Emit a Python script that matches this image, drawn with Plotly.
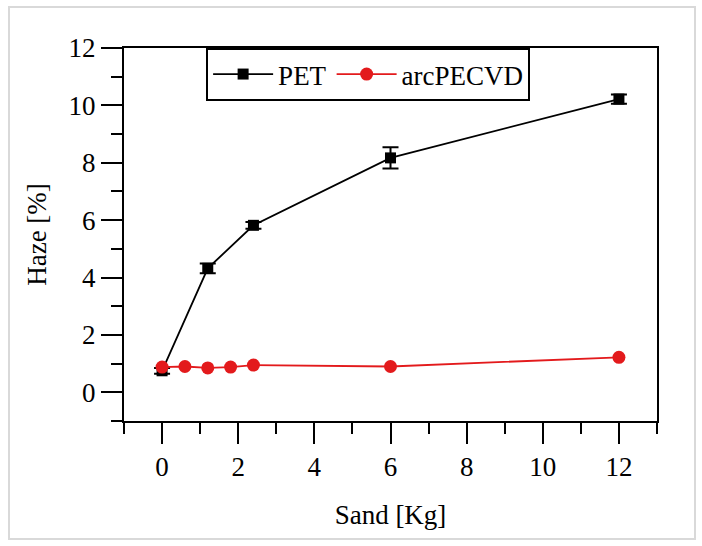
import plotly.graph_objects as go

pet_x = [0, 1.2, 2.4, 6, 12]
pet_y = [0.75, 4.32, 5.82, 8.17, 10.22]
pet_err = [0.1, 0.17, 0.12, 0.37, 0.16]

arc_x = [0, 0.6, 1.2, 1.8, 2.4, 6, 12]
arc_y = [0.88, 0.9, 0.85, 0.88, 0.95, 0.9, 1.22]

x_ticks = [0, 2, 4, 6, 8, 10, 12]
y_ticks = [0, 2, 4, 6, 8, 10, 12]

W, H = 702, 546
L, R, T, B = 124, 45, 48, 125
RED = "#e31a1c"
FONT = "Liberation Serif"

fig = go.Figure()
fig.add_trace(go.Scatter(
    x=pet_x, y=pet_y, name="PET", mode="lines+markers",
    line=dict(color="black", width=1.8),
    marker=dict(symbol="square", size=11, color="black"),
    error_y=dict(type="data", array=pet_err, color="black", thickness=2, width=8),
))
fig.add_trace(go.Scatter(
    x=arc_x, y=arc_y, name="arcPECVD", mode="lines+markers",
    line=dict(color=RED, width=1.8),
    marker=dict(symbol="circle", size=13, color=RED),
))

pw = W - L - R
ph = H - T - B
def px_x(p):
    return (p - L) / pw
def px_y(p):
    return (H - B - p) / ph

fig.add_shape(type="rect", xref="paper", yref="paper",
              x0=px_x(9), x1=px_x(695), y0=px_y(539), y1=px_y(7),
              line=dict(color="#d9d9d9", width=2), layer="below")

axis_common = dict(
    showline=True, linecolor="black", linewidth=2, mirror=True,
    ticks="outside", ticklen=21, tickwidth=2, tickcolor="black",
    showgrid=False, zeroline=False,
    tickfont=dict(family=FONT, size=27, color="black"),
    minor=dict(dtick=1, ticks="outside", ticklen=11, tickwidth=2, tickcolor="black", showgrid=False),
)

fig.update_xaxes(range=[-1, 13], tickvals=x_ticks,
                 title=dict(text="Sand [Kg]", font=dict(family=FONT, size=27, color="black"), standoff=24),
                 **axis_common)
fig.update_yaxes(range=[-1, 12], tickvals=y_ticks,
                 title=dict(text="Haze [%]", font=dict(family=FONT, size=27, color="black"), standoff=14),
                 **axis_common)

fig.update_layout(
    width=W, height=H,
    margin=dict(l=L, r=R, t=T, b=B, autoexpand=False),
    paper_bgcolor="white", plot_bgcolor="white",
    font=dict(family=FONT, color="black"),
    showlegend=True,
    legend=dict(orientation="h", x=0.458, xanchor="center", y=1.0, yanchor="top",
                bordercolor="black", borderwidth=2, bgcolor="white",
                font=dict(family=FONT, size=27, color="black"),
                itemwidth=60, tracegroupgap=0),
)

fig.write_html("out.html")
